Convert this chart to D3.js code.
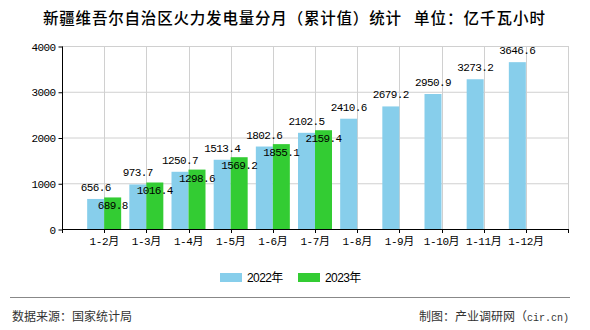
<!DOCTYPE html>
<html><head><meta charset="utf-8">
<script src="https://cdn.jsdelivr.net/npm/d3@7"></script>
<style>body{margin:0;background:#fff}svg{display:block}</style>
</head><body>
<svg id="c" width="590" height="330"></svg>
<script>
const categories = ["1-2月","1-3月","1-4月","1-5月","1-6月","1-7月","1-8月","1-9月","1-10月","1-11月","1-12月"];
const values2022 = [656.6, 973.7, 1250.7, 1513.4, 1802.6, 2102.5, 2410.6, 2679.2, 2950.9, 3273.2, 3646.6];
const values2023 = [689.8, 1016.4, 1298.6, 1569.2, 1855.1, 2159.4];
const yTicks = [0, 1000, 2000, 3000, 4000];
const seriesNames = ["2022年", "2023年"];
const colors = ["#87CEEB", "#33CC33"];
const titleParts = ["新疆维吾尔自治区火力发电量分月（累计值）统计", "单位：亿千瓦小时"];

const svg = d3.select("#c");
const L = 62, R = 568, T = 46, B = 229;
const x = d3.scalePoint().domain(categories).range([L, R]).padding(1);
const step = x.step();
const y = d3.scaleLinear().domain([0, 4000]).range([B, T]);
const numFont = "'Liberation Mono','Noto Sans CJK SC',monospace";

// title
const tpos = [[43, 358], [414, 131]];
titleParts.forEach((t, i) => {
  svg.append("text").attr("x", tpos[i][0]).attr("y", 24)
    .attr("font-family", "'Noto Sans CJK SC'").attr("font-size", 15.5).attr("font-weight", 500)
    .attr("textLength", tpos[i][1]).attr("lengthAdjust", "spacing")
    .attr("fill", "#000").text(t);
});

// grid
const g = svg.append("g");
g.selectAll("line.h").data(yTicks.filter(d => d > 0)).join("line")
  .attr("x1", L).attr("x2", R).attr("y1", d => y(d)+0.5).attr("y2", d => y(d)+0.5)
  .attr("stroke", "#d0d0d0");
const vx = d3.range(0, categories.length + 2).map(i => L + i * step);
g.selectAll("line.v").data(vx.slice(1)).join("line")
  .attr("x1", d => Math.round(d)+0.5).attr("x2", d => Math.round(d)+0.5).attr("y1", T).attr("y2", B)
  .attr("stroke", "#d0d0d0");

// bars
const bw = 17;
svg.append("g").selectAll("rect").data(values2022).join("rect")
  .attr("x", (d, i) => x(categories[i]) - bw).attr("width", bw)
  .attr("y", d => y(d)).attr("height", d => B - y(d)).attr("fill", colors[0]);
svg.append("g").selectAll("rect").data(values2023).join("rect")
  .attr("x", (d, i) => x(categories[i])).attr("width", bw)
  .attr("y", d => y(d)).attr("height", d => B - y(d)).attr("fill", colors[1]);

// axes
const yAxis = d3.axisLeft(y).tickValues(yTicks).tickFormat(d3.format("d")).tickSize(4).tickPadding(3);
const ya = svg.append("g").attr("transform", `translate(${L+0.5},0.5)`).call(yAxis);
ya.select(".domain").attr("d", `M0,${T}V${B}`).attr("stroke", "#000");
ya.selectAll("text").attr("font-family", numFont).attr("font-size", 11).attr("letter-spacing", "-0.6px").attr("fill", "#000");

svg.append("line").attr("x1", L).attr("x2", R).attr("y1", B+0.5).attr("y2", B+0.5).attr("stroke", "#000");
svg.append("g").selectAll("line").data(vx).join("line")
  .attr("x1", d => Math.round(d)+0.5).attr("x2", d => Math.round(d)+0.5).attr("y1", B).attr("y2", B+4).attr("stroke", "#000");
svg.append("g").selectAll("text").data(categories).join("text")
  .attr("x", d => x(d)).attr("y", 245).attr("text-anchor", "middle")
  .attr("font-family", numFont).attr("font-size", 11).attr("letter-spacing", "-0.4px").attr("fill", "#000").text(d => d);

// value labels
svg.append("g").selectAll("text").data(values2022).join("text")
  .attr("x", (d, i) => x(categories[i]) - bw/2).attr("y", d => y(d) - 8).attr("text-anchor", "middle")
  .attr("font-family", numFont).attr("font-size", 11).attr("letter-spacing", "-0.6px").attr("fill", "#000")
  .text(d => d.toFixed(1));
svg.append("g").selectAll("text").data(values2023).join("text")
  .attr("x", (d, i) => x(categories[i]) + bw/2).attr("y", d => y(d) + 12).attr("text-anchor", "middle")
  .attr("font-family", numFont).attr("font-size", 11).attr("letter-spacing", "-0.6px").attr("fill", "#000")
  .text(d => d.toFixed(1));

// legend
const lg = svg.append("g");
const lx = [220, 298];
seriesNames.forEach((n, i) => {
  lg.append("rect").attr("x", lx[i]).attr("y", 273).attr("width", 22).attr("height", 9).attr("fill", colors[i]);
  lg.append("text").attr("x", lx[i] + 27).attr("y", 281.5).attr("font-family", "'Liberation Sans','Noto Sans CJK SC'")
    .attr("font-size", 12).attr("letter-spacing", "-0.6px").attr("fill", "#000").text(n);
});

// footer
svg.append("line").attr("x1", 10).attr("x2", 570).attr("y1", 297.5).attr("y2", 297.5).attr("stroke", "#888");
svg.append("text").attr("x", 12).attr("y", 321).attr("font-family", "'Noto Sans CJK SC'").attr("font-size", 12)
  .attr("fill", "#333").text("数据来源：国家统计局");
const ft = svg.append("text").attr("x", 569).attr("y", 321).attr("text-anchor", "end").attr("font-family", "'Noto Sans CJK SC'").attr("font-size", 12)
  .attr("fill", "#333");
ft.append("tspan").text("制图：产业调研网（");
ft.append("tspan").attr("font-family", "'Liberation Mono'").attr("font-size", 10).text("cir.cn)");
</script>
</body></html>
